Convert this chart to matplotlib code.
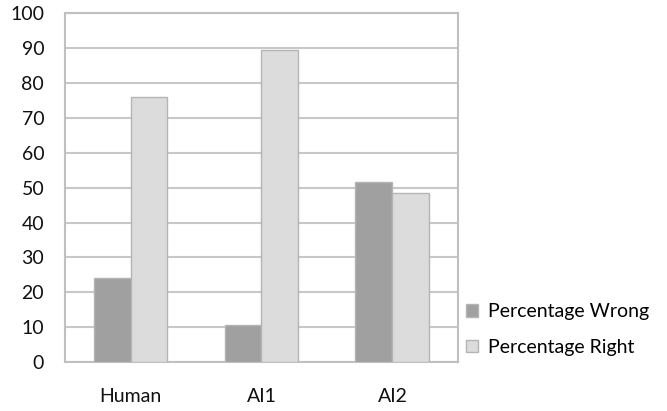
import matplotlib
matplotlib.use("Agg")
import matplotlib.pyplot as plt
import numpy as np
from matplotlib.patches import Patch

categories = ["Human", "AI1", "AI2"]
pct_wrong = [24.0, 10.7, 51.5]
pct_right = [76.0, 89.3, 48.5]
series_names = ["Percentage Wrong", "Percentage Right"]
yticks = [0, 10, 20, 30, 40, 50, 60, 70, 80, 90, 100]

plt.rcParams['font.family'] = ['Lato', 'DejaVu Sans']

fig = plt.figure(figsize=(6.67, 4.11), dpi=100)
ax = fig.add_axes([0.0975, 0.119, 0.589, 0.849])

x = np.arange(len(categories))
w = 0.282
c_wrong = "#a0a0a0"
c_right = "#dcdcdc"
edge = "#b4b4b4"
ax.bar(x - w/2, pct_wrong, width=w, color=c_wrong, edgecolor=edge, linewidth=1.0, zorder=3)
ax.bar(x + w/2, pct_right, width=w, color=c_right, edgecolor=edge, linewidth=1.0, zorder=3)

ax.set_xlim(-0.5, 2.5)
ax.set_ylim(0, 100)
ax.set_yticks(yticks)
ax.set_xticks(x)
ax.set_xticklabels(categories)
ax.yaxis.grid(True, color="#c8c8c8", linewidth=1.5, zorder=0)
ax.set_axisbelow(True)
for s in ax.spines.values():
    s.set_color("#c0c0c0")
    s.set_linewidth(1.5)
ax.tick_params(axis='both', length=0, labelsize=14, colors="#111111")
ax.tick_params(axis='y', pad=15)
ax.tick_params(axis='x', pad=19)

handles = [Patch(facecolor=c_wrong, edgecolor=edge), Patch(facecolor=c_right, edgecolor=edge)]
fig.legend(handles, series_names, loc='center left', bbox_to_anchor=(0.673, 0.198),
           frameon=False, fontsize=14, handlelength=0.6, handleheight=0.6,
           handletextpad=0.5, labelspacing=0.95)

fig.savefig("out.png", dpi=100)
